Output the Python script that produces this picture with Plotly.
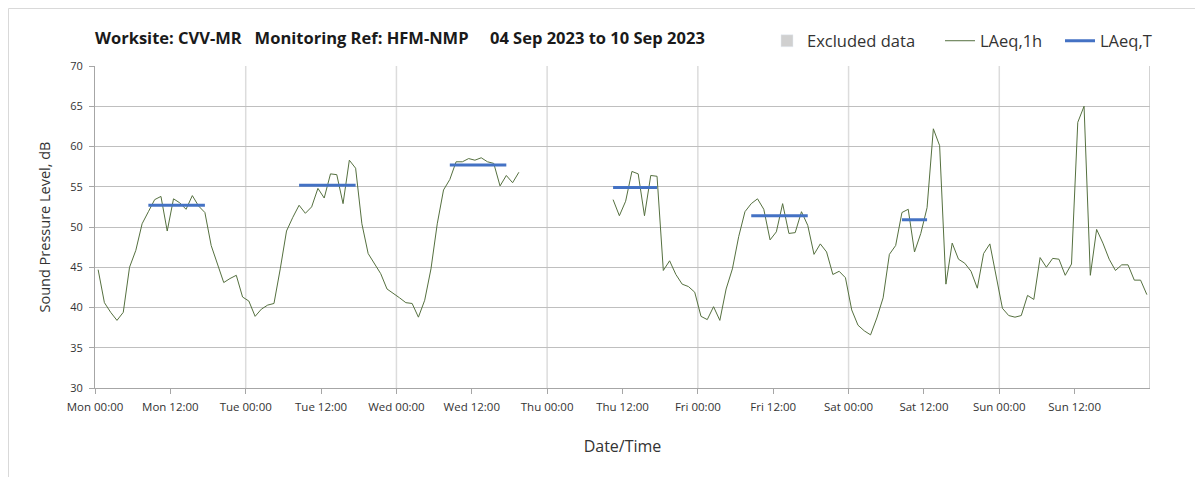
import pandas as pd
import plotly.graph_objects as go

# ---- data ----
start_time = "2023-09-04 00:30"
laeq_1h = [
    44.7, 40.6, 39.4, 38.4, 39.4, 45.0, 47.1, 50.4, 51.9, 53.4, 53.8, 49.5,
    53.5, 53.0, 52.2, 53.9, 52.6, 51.8, 47.7, 45.3, 43.1, 43.6, 44.0, 41.3,
    40.8, 38.9, 39.8, 40.3, 40.5, 44.8, 49.5, 51.2, 52.7, 51.7, 52.5, 54.8,
    53.6, 56.6, 56.5, 52.9, 58.3, 57.3, 50.4, 46.7, 45.4, 44.2, 42.3, 41.8,
    41.2, 40.6, 40.5, 38.8, 40.9, 44.8, 50.4, 54.6, 55.9, 58.1, 58.1, 58.5,
    58.3, 58.6, 58.1, 57.9, 55.1, 56.4, 55.5, 56.8,
    None, None, None, None, None, None, None, None, None, None, None, None,
    None, None,
    53.4, 51.4, 53.2, 56.9, 56.6, 51.4, 56.4, 56.3, 44.6, 45.8, 44.1, 42.9,
    42.6, 41.9, 38.9, 38.5, 40.1, 38.4, 42.3, 44.8, 48.8, 51.9, 52.9, 53.5,
    52.2, 48.4, 49.4, 52.9, 49.2, 49.3, 51.9, 50.2, 46.6, 47.9, 46.9, 44.1,
    44.5, 43.7, 39.7, 37.8, 37.1, 36.6, 38.7, 41.2, 46.6, 47.7, 51.8, 52.2,
    46.9, 49.2, 52.4, 62.2, 60.1, 42.9, 48.0, 46.0, 45.5, 44.5, 42.4, 46.7,
    47.9, 43.7, 39.9, 39.0, 38.8, 39.0, 41.5, 41.0, 46.2, 45.0, 46.1, 46.0,
    44.0, 45.4, 63.0, 65.0, 44.0, 49.7, 48.0, 46.0, 44.6, 45.3, 45.3, 43.4,
    43.4, 41.6,
]
times_1h = pd.date_range(start_time, periods=len(laeq_1h), freq="h")

period_start = ["2023-09-04 08:30", "2023-09-05 08:30", "2023-09-06 08:30",
                "2023-09-07 10:30", "2023-09-08 08:30", "2023-09-09 08:30"]
period_end = ["2023-09-04 17:30", "2023-09-05 17:30", "2023-09-06 17:30",
              "2023-09-07 17:30", "2023-09-08 17:30", "2023-09-09 12:30"]
laeq_T = [52.7, 55.2, 57.7, 54.9, 51.4, 50.9]

tick_times = pd.date_range("2023-09-04", periods=14, freq="12h")
tick_labels = [t.strftime("%a %H:%M") for t in tick_times]
day_starts = pd.date_range("2023-09-04", "2023-09-11", freq="D")

# build LAeq,T segments
tx, ty = [], []
for s, e, v in zip(period_start, period_end, laeq_T):
    tx += [s, e, None]
    ty += [v, v, None]

FONT = "Open Sans"
W, H = 1195, 469          # page body adds an 8px margin
L, R, T, B = 87, 53, 58, 89
PW, PH = W - L - R, H - T - B

fig = go.Figure()
fig.add_trace(go.Bar(x=[None], y=[None], name="Excluded data",
                     marker=dict(color="#d0d0d0"), legendwidth=128))
fig.add_trace(go.Scatter(x=times_1h, y=laeq_1h, mode="lines", name="LAeq,1h",
                         line=dict(color="#55703f", width=1),
                         connectgaps=False, legendwidth=75))
fig.add_trace(go.Scatter(x=tx, y=ty, mode="lines", name="LAeq,T",
                         line=dict(color="#4472C4", width=3)))

shapes = []
for d in day_starts[1:-1]:
    shapes.append(dict(type="line", xref="x", yref="paper", x0=d, x1=d,
                       y0=0, y1=1, line=dict(color="#dcdcdc", width=1.5),
                       layer="below"))
shapes.append(dict(type="line", xref="x", yref="paper", x0=day_starts[-1],
                   x1=day_starts[-1], y0=0, y1=1,
                   line=dict(color="#a6a6a6", width=1), layer="below"))
# chart area border
shapes.append(dict(type="rect", xref="paper", yref="paper",
                   x0=(0.5 - L) / PW, x1=1.2, y0=-0.4, y1=(T + PH - 0.5) / PH,
                   line=dict(color="#d9d9d9", width=1)))

title_txt = ("<b>Worksite: CVV-MR&nbsp;&nbsp;&nbsp;Monitoring Ref: HFM-NMP"
             "&nbsp;&nbsp;&nbsp;&nbsp;&nbsp;04 Sep 2023 to 10 Sep 2023</b>")

fig.update_layout(
    width=W, height=H,
    margin=dict(l=L, r=R, t=T, b=B, autoexpand=False),
    paper_bgcolor="white", plot_bgcolor="white",
    font=dict(family=FONT, color="#333333"),
    title=dict(text=title_txt,
               x=L / W, xanchor="left", y=1 - 30 / H, yanchor="middle",
               font=dict(family=FONT, size=16.5, color="#1a1a1a")),
    legend=dict(orientation="h", x=(1149 - L) / PW, xanchor="right",
                y=(T + PH - 33) / PH, yanchor="middle",
                font=dict(family=FONT, size=16.5, color="#333333"),
                bgcolor="rgba(0,0,0,0)", itemwidth=30),
    showlegend=True,
    shapes=shapes,
    bargap=0,
)
fig.update_xaxes(
    type="date", range=["2023-09-04", "2023-09-11"],
    tickvals=tick_times, ticktext=tick_labels,
    showgrid=False, showline=True, linecolor="#a6a6a6", linewidth=1,
    ticks="outside", ticklen=5, tickcolor="#a6a6a6", ticklabelstandoff=3,
    tickfont=dict(family=FONT, size=11.5, color="#333333"),
    title=dict(text="Date/Time", font=dict(family=FONT, size=16, color="#333333"),
               standoff=28),
    zeroline=False, automargin=False,
)
fig.update_yaxes(
    range=[30, 70], dtick=5, showgrid=True, gridcolor="#bfbfbf", gridwidth=1,
    showline=True, linecolor="#a6a6a6", linewidth=1,
    ticks="outside", ticklen=5, tickcolor="#a6a6a6", ticklabelstandoff=4,
    tickfont=dict(family=FONT, size=11, color="#333333"),
    title=dict(text="Sound Pressure Level, dB",
               font=dict(family=FONT, size=14.5, color="#333333"), standoff=16),
    zeroline=False, automargin=False,
)
fig.write_html("out.html")
